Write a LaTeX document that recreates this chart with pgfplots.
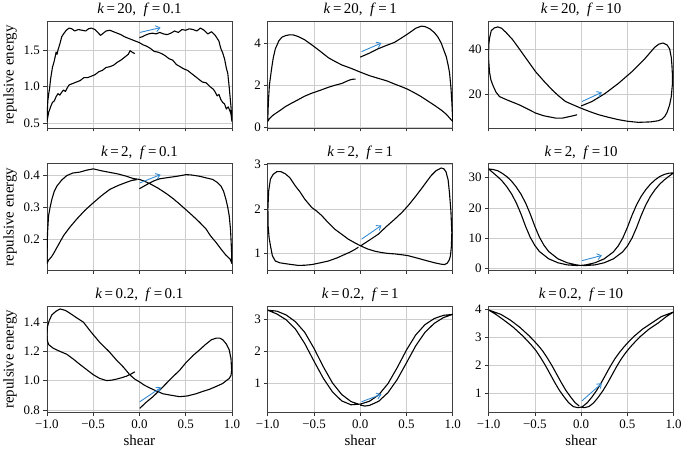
\documentclass[border=0pt]{standalone}
\usepackage{fontspec}
\setmainfont{Liberation Serif}
\usepackage{pgfplots}
\pgfplotsset{compat=1.18}
\usepgfplotslibrary{groupplots}
\usetikzlibrary{arrows.meta}
\definecolor{arr}{RGB}{52,138,210}
\definecolor{gridc}{RGB}{205,205,205}
\newcommand{\ttl}[2]{\textit{k}\,=\,#1,\enspace\textit{f}\,=\,#2}
\pgfplotsset{
 crv/.style={black, line width=1.1pt, no markers, line join=round},
 arw/.style={arr, line width=0.9pt, no markers, -{Straight Barb[length=4pt,width=6pt]}},
}
\begin{document}
\begin{tikzpicture}
\begin{groupplot}[
 group style={group size=3 by 3, horizontal sep=36pt, vertical sep=36pt,
   xticklabels at=edge bottom, xlabels at=edge bottom, ylabels at=edge left},
 width=186pt, height=107pt, scale only axis,
 xmin=-1, xmax=1, xtick={-1,-0.5,0,0.5,1},
 xticklabels={−1.0,−0.5,0.0,0.5,1.0},
 grid=major, major grid style={gridc, line width=0.6pt},
 axis line style={black!75, line width=0.7pt},
 tick align=outside, tick pos=left, major tick length=3.5pt,
 tick style={black!80, line width=0.6pt},
 tick label style={font=\fontsize{13}{15}\selectfont},
 label style={font=\fontsize{15}{17}\selectfont},
 title style={font=\fontsize{15}{17}\selectfont, yshift=-5pt},
 xlabel={shear}, ylabel={repulsive energy},
]
% ---------- k=20, f=0.1
\nextgroupplot[title={\ttl{20}{0.1}}, ymin=0.43, ymax=1.89, ytick={0.5,1.0,1.5}, yticklabels={0.5,1.0,1.5}]
\addplot[crv] coordinates {(0.0,1.67) (0.03,1.68) (0.06,1.70) (0.1,1.72) (0.14,1.73) (0.18,1.72) (0.22,1.74) (0.26,1.72) (0.3,1.71) (0.34,1.73) (0.38,1.76) (0.42,1.74) (0.46,1.78) (0.5,1.77) (0.54,1.79) (0.58,1.78) (0.62,1.76) (0.66,1.80) (0.70,1.77) (0.74,1.72) (0.78,1.75) (0.82,1.70) (0.86,1.62) (0.88,1.52) (0.9,1.46) (0.92,1.38) (0.94,1.25) (0.955,1.18) (0.97,1.00) (0.98,0.86) (0.99,0.72) (1.0,0.52)
(0.99,0.62) (0.98,0.66) (0.96,0.72) (0.94,0.69) (0.92,0.76) (0.9,0.78) (0.88,0.82) (0.86,0.89) (0.84,0.87) (0.82,0.92) (0.8,0.96) (0.76,1.0) (0.72,1.05) (0.68,1.06) (0.64,1.10) (0.6,1.14) (0.56,1.18) (0.52,1.22) (0.48,1.24) (0.44,1.27) (0.4,1.30) (0.36,1.36) (0.32,1.38) (0.28,1.42) (0.24,1.45) (0.2,1.47) (0.16,1.48) (0.12,1.52) (0.08,1.55) (0.04,1.57) (0.0,1.60) (-0.04,1.62) (-0.08,1.64) (-0.12,1.66) (-0.16,1.68) (-0.2,1.71) (-0.24,1.73) (-0.28,1.75) (-0.32,1.77) (-0.36,1.76) (-0.38,1.74) (-0.42,1.70) (-0.45,1.74) (-0.48,1.78) (-0.52,1.80) (-0.55,1.79) (-0.58,1.76) (-0.62,1.77) (-0.66,1.78) (-0.7,1.76) (-0.73,1.79) (-0.76,1.80) (-0.79,1.77) (-0.82,1.72) (-0.84,1.68) (-0.86,1.58) (-0.88,1.50) (-0.89,1.44) (-0.9,1.47) (-0.92,1.35) (-0.94,1.26) (-0.96,1.10) (-0.97,0.98) (-0.98,0.90) (-0.99,0.80) (-1.0,0.52)
(-0.99,0.58) (-0.98,0.65) (-0.97,0.68) (-0.96,0.72) (-0.94,0.78) (-0.92,0.80) (-0.9,0.86) (-0.88,0.90) (-0.86,0.88) (-0.84,0.92) (-0.82,0.95) (-0.8,0.93) (-0.78,0.98) (-0.76,1.02) (-0.72,1.04) (-0.68,1.06) (-0.64,1.08) (-0.6,1.12) (-0.56,1.12) (-0.52,1.14) (-0.48,1.16) (-0.44,1.20) (-0.4,1.22) (-0.36,1.26) (-0.32,1.27) (-0.28,1.29) (-0.24,1.33) (-0.2,1.36) (-0.16,1.40) (-0.12,1.44) (-0.1,1.49) (-0.08,1.47) (-0.05,1.45)};
\addplot[arw] coordinates {(0.004,1.74) (0.229,1.806)};
% ---------- k=20, f=1
\nextgroupplot[title={\ttl{20}{1}}, ymin=-0.03, ymax=5.02, ytick={0,2,4}, yticklabels={0,2,4}]
\addplot[crv] coordinates {(0.0,3.33) (0.1,3.52) (0.19,3.72) (0.28,3.88) (0.37,4.03) (0.45,4.25) (0.52,4.45) (0.6,4.7) (0.66,4.8) (0.7,4.78) (0.75,4.68) (0.8,4.5) (0.84,4.28) (0.875,4.0) (0.9,3.7) (0.93,3.35) (0.95,2.95) (0.965,2.6) (0.98,1.9) (0.99,1.2) (1.0,0.28)
(0.97,0.42) (0.93,0.62) (0.875,0.82) (0.8,1.05) (0.73,1.25) (0.65,1.48) (0.58,1.65) (0.516,1.80) (0.45,1.92) (0.373,2.05) (0.29,2.2) (0.19,2.33) (0.1,2.45) (0.0,2.62) (-0.1,2.8) (-0.2,2.96) (-0.27,3.12) (-0.344,3.3) (-0.43,3.6) (-0.52,3.9) (-0.6,4.15) (-0.667,4.3) (-0.72,4.38) (-0.76,4.39) (-0.8,4.36) (-0.846,4.28) (-0.88,4.1) (-0.918,3.72) (-0.94,3.3) (-0.953,2.94) (-0.97,2.4) (-0.982,2.0) (-0.993,1.2) (-1.0,0.28)
(-0.98,0.42) (-0.95,0.55) (-0.918,0.65) (-0.86,0.82) (-0.81,0.98) (-0.74,1.15) (-0.667,1.32) (-0.6,1.48) (-0.523,1.62) (-0.43,1.76) (-0.344,1.9) (-0.27,2.0) (-0.2,2.08) (-0.15,2.18) (-0.111,2.25) (-0.08,2.28) (-0.05,2.29)};
\addplot[arw] coordinates {(0.014,3.59) (0.229,4.0)};
% ---------- k=20, f=10
\nextgroupplot[title={\ttl{20}{10}}, ymin=5, ymax=52.5, ytick={20,40}, yticklabels={20,40}]
\addplot[crv] coordinates {(0.0,14.8) (0.118,16.8) (0.26,20.4) (0.404,24.9) (0.546,30.0) (0.689,35.9) (0.796,41.0) (0.84,42.4) (0.886,42.9) (0.93,42.0) (0.957,40.3) (0.975,36.5) (0.982,32.9) (0.988,28) (0.986,24.1) (0.975,19) (0.957,15.3) (0.93,12) (0.904,10.1) (0.87,8.8) (0.832,8.2) (0.75,7.7) (0.618,7.5) (0.5,8.0) (0.404,8.7) (0.3,9.7) (0.19,10.9) (0.1,12.2) (0.0,13.8) (-0.08,15.2) (-0.168,16.8) (-0.24,19.2) (-0.311,21.9) (-0.4,25.8) (-0.49,30.0) (-0.58,35.2) (-0.668,40.3) (-0.74,44.4) (-0.811,47.6) (-0.86,49.5) (-0.9,50.1) (-0.94,49.6) (-0.971,48.4) (-0.99,45) (-0.998,41.8) (-1.0,36) (-0.99,30.0) (-0.975,26.5) (-0.954,24.1) (-0.92,21) (-0.882,19.0) (-0.8,17.5) (-0.668,15.3) (-0.58,13.5) (-0.49,11.6) (-0.4,10.4) (-0.275,9.4) (-0.2,9.4) (-0.168,9.7) (-0.1,10.3) (-0.043,10.9)};
\addplot[arw] coordinates {(0.01,16.8) (0.225,20.9)};
% ---------- k=2, f=0.1
\nextgroupplot[title={\ttl{2}{0.1}}, ymin=0.103, ymax=0.436, ytick={0.2,0.3,0.4}, yticklabels={0.2,0.3,0.4}]
\addplot[crv] coordinates {(0.0,0.358) (0.05,0.366) (0.111,0.376) (0.16,0.383) (0.219,0.389) (0.29,0.392) (0.362,0.395) (0.43,0.398) (0.505,0.402) (0.56,0.401) (0.649,0.397) (0.72,0.392) (0.792,0.387) (0.84,0.378) (0.882,0.366) (0.91,0.35) (0.935,0.325) (0.955,0.30) (0.971,0.273) (0.985,0.23) (0.995,0.17) (1.0,0.124)
(0.98,0.138) (0.935,0.15) (0.88,0.17) (0.828,0.19) (0.77,0.21) (0.72,0.232) (0.65,0.253) (0.577,0.273) (0.5,0.293) (0.434,0.31) (0.36,0.328) (0.29,0.343) (0.2,0.36) (0.111,0.374) (0.05,0.382) (0.0,0.387) (-0.07,0.39) (-0.14,0.397) (-0.23,0.404) (-0.319,0.409) (-0.41,0.414) (-0.498,0.42) (-0.57,0.416) (-0.642,0.41) (-0.72,0.407) (-0.785,0.399) (-0.84,0.385) (-0.892,0.366) (-0.92,0.35) (-0.946,0.325) (-0.965,0.30) (-0.982,0.273) (-0.993,0.22) (-1.0,0.124)
(-0.98,0.135) (-0.95,0.145) (-0.928,0.155) (-0.88,0.18) (-0.82,0.211) (-0.75,0.238) (-0.677,0.263) (-0.59,0.29) (-0.498,0.314) (-0.41,0.336) (-0.319,0.356) (-0.23,0.368) (-0.14,0.378) (-0.08,0.384) (-0.03,0.386)};
\addplot[arw] coordinates {(0.004,0.376) (0.229,0.402)};
% ---------- k=2, f=1
\nextgroupplot[title={\ttl{2}{1}}, ymin=0.623, ymax=3.015, ytick={1,2,3}, yticklabels={1,2,3}]
\addplot[crv] coordinates {(0.004,1.17) (0.1,1.3) (0.194,1.43) (0.28,1.6) (0.373,1.77) (0.45,1.92) (0.516,2.07) (0.59,2.26) (0.66,2.45) (0.72,2.62) (0.767,2.75) (0.82,2.86) (0.875,2.92) (0.905,2.9) (0.928,2.83) (0.95,2.65) (0.964,2.37) (0.98,1.95) (0.99,1.47) (0.985,1.15) (0.975,0.95) (0.964,0.86) (0.94,0.78) (0.91,0.75) (0.87,0.76) (0.803,0.79) (0.73,0.83) (0.66,0.87) (0.59,0.91) (0.516,0.95) (0.45,0.97) (0.37,0.99) (0.3,1.0) (0.23,1.02) (0.158,1.05) (0.08,1.1) (0.004,1.17) (-0.06,1.24) (-0.129,1.32) (-0.2,1.43) (-0.272,1.54) (-0.35,1.7) (-0.416,1.85) (-0.47,1.95) (-0.523,2.03) (-0.6,2.22) (-0.65,2.38) (-0.703,2.52) (-0.76,2.7) (-0.81,2.79) (-0.86,2.84) (-0.9,2.84) (-0.94,2.78) (-0.971,2.67) (-0.99,2.4) (-0.998,2.0) (-0.995,1.6) (-0.985,1.35) (-0.971,1.18) (-0.95,0.95) (-0.918,0.83) (-0.87,0.79) (-0.81,0.77) (-0.74,0.75) (-0.667,0.73) (-0.6,0.735) (-0.523,0.75) (-0.43,0.79) (-0.344,0.83) (-0.25,0.9) (-0.165,0.98) (-0.11,1.03) (-0.057,1.09) (-0.02,1.14)};
\addplot[arw] coordinates {(0.014,1.32) (0.229,1.63)};
% ---------- k=2, f=10
\nextgroupplot[title={\ttl{2}{10}}, ymin=-0.55, ymax=34.5, ytick={0,10,20,30}, yticklabels={0,10,20,30}]
\addplot[crv] coordinates {(0.02,1.0) (0.05,1.0) (0.15,1.2) (0.25,1.9) (0.35,3.2) (0.45,5.5) (0.5,7.4) (0.55,10.0) (0.6,13.5) (0.65,17.5) (0.7,21.0) (0.75,23.8) (0.8,26.0) (0.85,27.8) (0.9,29.2) (0.95,30.4) (1.0,31.5)
(0.95,31.4) (0.9,31.0) (0.85,30.3) (0.8,29.2) (0.75,27.8) (0.7,26.0) (0.65,23.8) (0.6,21.0) (0.55,17.5) (0.5,13.5) (0.45,10.0) (0.4,7.4) (0.35,5.5) (0.25,3.2) (0.15,1.9) (0.05,1.2) (0.0,1.05)
(-0.05,1.0) (-0.15,1.2) (-0.25,1.9) (-0.35,3.2) (-0.45,5.6) (-0.5,7.6) (-0.55,10.3) (-0.6,13.9) (-0.65,18.0) (-0.7,21.6) (-0.75,24.5) (-0.8,26.8) (-0.85,28.7) (-0.9,30.2) (-0.95,31.5) (-1.0,32.8)
(-0.95,32.6) (-0.9,32.2) (-0.85,31.3) (-0.8,30.2) (-0.75,28.7) (-0.7,26.8) (-0.65,24.5) (-0.6,21.6) (-0.55,18.0) (-0.5,13.9) (-0.45,10.3) (-0.4,7.6) (-0.35,5.6) (-0.25,3.2) (-0.15,1.9) (-0.05,1.2) (-0.02,1.1)};
\addplot[arw] coordinates {(0.01,2.6) (0.225,4.3)};
% ---------- k=0.2, f=0.1
\nextgroupplot[title={\ttl{0.2}{0.1}}, ymin=0.782, ymax=1.51, ytick={0.8,1.0,1.2,1.4}, yticklabels={0.8,1.0,1.2,1.4}]
\addplot[crv] coordinates {(0.004,0.81) (0.07,0.85) (0.147,0.89) (0.22,0.935) (0.29,0.98) (0.36,1.025) (0.434,1.07) (0.5,1.12) (0.577,1.17) (0.65,1.21) (0.72,1.25) (0.78,1.28) (0.828,1.29) (0.87,1.29) (0.9,1.28) (0.94,1.25) (0.971,1.21) (0.99,1.15) (0.997,1.07) (0.99,1.035) (0.971,1.015) (0.94,1.0) (0.9,0.98) (0.83,0.96) (0.756,0.94) (0.68,0.925) (0.613,0.91) (0.52,0.895) (0.434,0.89) (0.34,0.9) (0.254,0.91) (0.18,0.93) (0.111,0.95) (0.05,0.97) (0.004,0.99) (-0.05,1.01) (-0.104,1.04) (-0.17,1.09) (-0.247,1.14) (-0.33,1.2) (-0.427,1.26) (-0.52,1.33) (-0.606,1.4) (-0.68,1.43) (-0.749,1.46) (-0.8,1.48) (-0.857,1.49) (-0.9,1.475) (-0.946,1.45) (-0.975,1.41) (-0.993,1.37) (-1.0,1.32) (-0.998,1.28) (-0.98,1.245) (-0.928,1.22) (-0.86,1.2) (-0.785,1.18) (-0.71,1.145) (-0.642,1.11) (-0.57,1.075) (-0.498,1.04) (-0.43,1.015) (-0.355,1.0) (-0.3,1.003) (-0.247,1.01) (-0.19,1.02) (-0.14,1.03) (-0.09,1.045) (-0.05,1.06)};
\addplot[arw] coordinates {(0.004,0.855) (0.236,0.954)};
% ---------- k=0.2, f=1
\nextgroupplot[title={\ttl{0.2}{1}}, ymin=0.10, ymax=3.42, ytick={1,2,3}, yticklabels={1,2,3}]
\addplot[crv] coordinates {(0.0,0.33) (0.05,0.30) (0.1,0.32) (0.2,0.45) (0.3,0.72) (0.4,1.13) (0.5,1.65) (0.6,2.18) (0.7,2.6) (0.8,2.88) (0.9,3.06) (1.0,3.16)
(0.9,3.13) (0.8,3.03) (0.7,2.84) (0.6,2.52) (0.5,2.05) (0.4,1.5) (0.3,1.0) (0.2,0.65) (0.1,0.45) (0.0,0.36)
(-0.1,0.34) (-0.2,0.46) (-0.3,0.74) (-0.4,1.17) (-0.5,1.7) (-0.6,2.25) (-0.7,2.7) (-0.8,2.99) (-0.9,3.17) (-1.0,3.29)
(-0.9,3.26) (-0.8,3.14) (-0.7,2.93) (-0.6,2.6) (-0.5,2.1) (-0.4,1.53) (-0.3,1.02) (-0.2,0.66) (-0.1,0.44) (-0.02,0.36)};
\addplot[arw] coordinates {(0.014,0.435) (0.229,0.665)};
% ---------- k=0.2, f=10
\nextgroupplot[title={\ttl{0.2}{10}}, ymin=0.31, ymax=4.1, ytick={1,2,3,4}, yticklabels={1,2,3,4}]
\addplot[crv] coordinates {(0.0,0.5) (0.035,0.48) (0.085,0.52) (0.135,0.65) (0.185,0.85) (0.235,1.08) (0.285,1.35) (0.335,1.65) (0.385,1.95) (0.435,2.22) (0.485,2.45) (0.535,2.65) (0.585,2.83) (0.635,3.0) (0.735,3.28) (0.835,3.5) (0.92,3.72) (1.0,3.89)
(0.865,3.72) (0.765,3.5) (0.665,3.28) (0.565,3.0) (0.515,2.83) (0.465,2.65) (0.415,2.45) (0.365,2.22) (0.315,1.95) (0.265,1.65) (0.215,1.35) (0.165,1.08) (0.115,0.85) (0.065,0.65) (0.015,0.52) (0.0,0.5)
(-0.035,0.48) (-0.085,0.52) (-0.135,0.66) (-0.185,0.87) (-0.235,1.1) (-0.285,1.38) (-0.335,1.68) (-0.385,1.98) (-0.435,2.25) (-0.485,2.5) (-0.535,2.7) (-0.585,2.88) (-0.635,3.05) (-0.735,3.35) (-0.835,3.6) (-0.92,3.8) (-1.0,3.96)
(-0.865,3.8) (-0.765,3.6) (-0.665,3.35) (-0.565,3.05) (-0.515,2.88) (-0.465,2.7) (-0.415,2.5) (-0.365,2.25) (-0.315,1.98) (-0.265,1.68) (-0.215,1.38) (-0.165,1.1) (-0.115,0.87) (-0.065,0.66) (-0.02,0.54)};
\addplot[arw] coordinates {(0.01,0.725) (0.225,1.35)};
\end{groupplot}
\end{tikzpicture}
\end{document}
